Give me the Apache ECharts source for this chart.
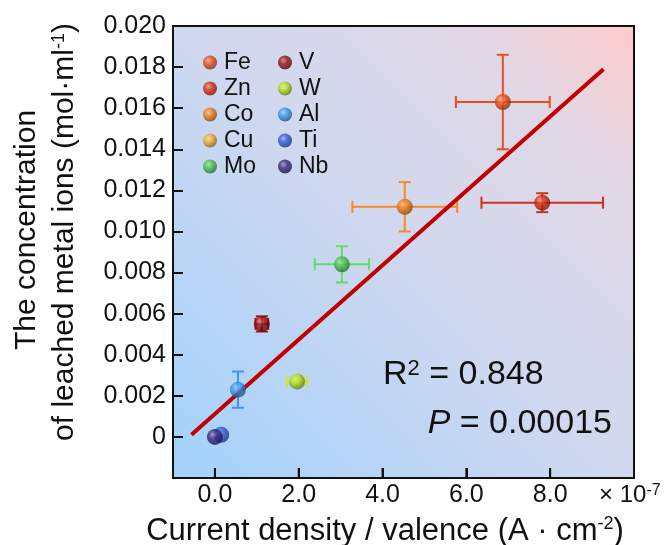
<!DOCTYPE html>
<html>
<head>
<meta charset="utf-8">
<script src="https://cdn.jsdelivr.net/npm/echarts@6.0.0/dist/echarts.min.js"></script>
<style>
  html, body { margin: 0; padding: 0; background: #fff; }
  #chart { width: 669px; height: 545px; }
</style>
</head>
<body>
<div id="chart"></div>
<script>
// metals, x in units of 1e-7 A/cm2 per valence, y in mol/ml
const metals = ["Fe", "Zn", "Co", "Cu", "Mo", "V", "W", "Al", "Ti", "Nb"];
const xVals = [6.87, 7.81, 4.53, null, 3.03, 1.12, 1.96, 0.55, 0.15, 0.0];
const yVals = [0.0163, 0.0114, 0.0112, null, 0.0084, 0.0055, 0.0027, 0.0023, 0.0001, 0.0];
const xErr = [1.12, 1.45, 1.25, null, 0.65, 0.15, 0.24, 0, 0, 0];
const yErr = [0.0023, 0.00046, 0.0012, null, 0.00088, 0.00037, 0, 0.00088, 0, 0];
const colors = ["#ec4e14", "#d8280c", "#f47c14", "#f2b02a", "#48c448", "#9a0c0c", "#b4e014", "#3698ec", "#3458dc", "#36267e"];
const barColors = ["#e8501a", "#d0301e", "#f58a22", "#f0b232", "#62dc62", "#a01818", "#c8ec20", "#3a96ee", "#3a5ad8", "#382a7e"];

// fitted line end points
const fitX = [-0.56, 9.27];
const fitY = [0.0001, 0.0179];

const xTicks = [0, 2, 4, 6, 8];
const yMin = -0.002;

const FONT = "Liberation Sans, Arial, sans-serif";

function shade(hex, amt) {
  let r = parseInt(hex.slice(1, 3), 16), g = parseInt(hex.slice(3, 5), 16), b = parseInt(hex.slice(5, 7), 16);
  const t = amt < 0 ? 0 : 255, p = Math.abs(amt);
  r = Math.round((t - r) * p + r); g = Math.round((t - g) * p + g); b = Math.round((t - b) * p + b);
  return "rgb(" + r + "," + g + "," + b + ")";
}

function sphere(c) {
  return new echarts.graphic.RadialGradient(0.38, 0.35, 0.7, [
    { offset: 0, color: shade(c, 0.5) },
    { offset: 0.4, color: c },
    { offset: 1, color: shade(c, -0.5) }
  ]);
}

const chart = echarts.init(document.getElementById("chart"));

const errData = [];
metals.forEach(function (m, i) {
  if (xVals[i] === null) return;
  if (xErr[i] > 0 || yErr[i] > 0) errData.push([xVals[i], yVals[i], xErr[i], yErr[i], i]);
});

const series = [];
series.push({
  name: "err",
  type: "custom",
  z: 2,
  silent: true,
  data: errData,
  renderItem: function (params, api) {
    const x = api.value(0), y = api.value(1), dx = api.value(2), dy = api.value(3);
    const col = barColors[api.value(4)];
    const c = api.coord([x, y]);
    const kids = [];
    const st = { stroke: col, lineWidth: 2 };
    const cap = 6;
    if (dx > 0) {
      const l = api.coord([x - dx, y]), r = api.coord([x + dx, y]);
      kids.push({ type: "line", shape: { x1: l[0], y1: c[1], x2: r[0], y2: c[1] }, style: st });
      kids.push({ type: "line", shape: { x1: l[0], y1: c[1] - cap, x2: l[0], y2: c[1] + cap }, style: st });
      kids.push({ type: "line", shape: { x1: r[0], y1: c[1] - cap, x2: r[0], y2: c[1] + cap }, style: st });
    }
    if (dy > 0) {
      const t = api.coord([x, y + dy]), b = api.coord([x, y - dy]);
      kids.push({ type: "line", shape: { x1: c[0], y1: t[1], x2: c[0], y2: b[1] }, style: st });
      kids.push({ type: "line", shape: { x1: c[0] - cap, y1: t[1], x2: c[0] + cap, y2: t[1] }, style: st });
      kids.push({ type: "line", shape: { x1: c[0] - cap, y1: b[1], x2: c[0] + cap, y2: b[1] }, style: st });
    }
    return { type: "group", children: kids };
  }
});

// x tick marks at the bottom frame (inside)
series.push({
  name: "xticks",
  type: "custom",
  z: 6,
  silent: true,
  data: xTicks.map(function (v) { return [v, yMin]; }),
  renderItem: function (params, api) {
    const p = api.coord([api.value(0), api.value(1)]);
    return { type: "line", shape: { x1: p[0], y1: p[1], x2: p[0], y2: p[1] - 10 }, style: { stroke: "#111", lineWidth: 2 } };
  }
});

series.push({
  name: "fit",
  type: "line",
  z: 3,
  silent: true,
  symbol: "none",
  data: [[fitX[0], fitY[0]], [fitX[1], fitY[1]]],
  lineStyle: { color: "#c00000", width: 4 }
});

metals.forEach(function (m, i) {
  series.push({
    name: m,
    type: "scatter",
    z: 4,
    symbolSize: 16,
    itemStyle: { color: sphere(colors[i]) },
    data: xVals[i] === null ? [] : [[xVals[i], yVals[i]]]
  });
});

const legendBase = {
  orient: "vertical",
  top: 46,
  icon: "circle",
  itemWidth: 18,
  itemHeight: 14,
  itemGap: 3,
  selectedMode: false,
  textStyle: { fontSize: 23, lineHeight: 23, color: "#111", fontFamily: FONT }
};

const option = {
  animation: false,
  backgroundColor: "#fff",
  textStyle: { fontFamily: FONT },
  grid: {
    left: 173, top: 26, right: 35, bottom: 67,
    show: true,
    borderColor: "#111",
    borderWidth: 2,
    backgroundColor: new echarts.graphic.LinearGradient(0, 1, 1, 0, [
      { offset: 0, color: "#a2d2fc" },
      { offset: 0.5, color: "#d0d8ef" },
      { offset: 0.8, color: "#e0d8e6" },
      { offset: 1, color: "#ffcccc" }
    ])
  },
  legend: [
    Object.assign({ left: 198, data: metals.slice(0, 5) }, legendBase),
    Object.assign({ left: 273, data: metals.slice(5) }, legendBase)
  ],
  xAxis: {
    type: "value",
    min: -1,
    max: 10,
    splitLine: { show: false },
    axisLine: { show: false, onZero: false },
    axisTick: { inside: true, length: 10, customValues: xTicks, lineStyle: { color: "#111", width: 2 } },
    axisLabel: {
      customValues: xTicks,
      fontSize: 25, color: "#111", margin: 5, fontFamily: FONT,
      formatter: function (v) { return v.toFixed(1); }
    }
  },
  yAxis: {
    type: "value",
    min: yMin,
    max: 0.02,
    interval: 0.002,
    splitLine: { show: false },
    axisLine: { show: false, onZero: false },
    axisTick: { inside: true, length: 10, lineStyle: { color: "#111", width: 2 } },
    axisLabel: {
      fontSize: 25, color: "#111", margin: 7, fontFamily: FONT,
      formatter: function (v) {
        if (v < -0.0001) return "";
        if (Math.abs(v) < 1e-9) return "0";
        return v.toFixed(3);
      }
    }
  },
  graphic: [
    {
      type: "text", x: 385, y: 531,
      style: {
        text: "Current density / valence (A · cm{s|-2})",
        rich: { s: { fontSize: 18, verticalAlign: "top", fontFamily: FONT, fill: "#111" } },
        font: "31px " + FONT, fill: "#111", align: "center", verticalAlign: "middle"
      }
    },
    {
      type: "text", x: 27, y: 230, rotation: Math.PI / 2,
      style: { text: "The concentration", font: "30px " + FONT, fill: "#111", align: "center", verticalAlign: "middle" }
    },
    {
      type: "text", x: 65, y: 232, rotation: Math.PI / 2,
      style: {
        text: "of leached metal ions (mol·ml{s|-1})",
        rich: { s: { fontSize: 18, verticalAlign: "top", fontFamily: FONT, fill: "#111" } },
        font: "30px " + FONT, fill: "#111", align: "center", verticalAlign: "middle"
      }
    },
    {
      type: "text", x: 599, y: 495,
      style: {
        text: "× 10{s|-7}",
        rich: { s: { fontSize: 16, verticalAlign: "top", fontFamily: FONT, fill: "#111" } },
        font: "24px " + FONT, fill: "#111", align: "left", verticalAlign: "middle"
      }
    },
    {
      type: "text", x: 383, y: 375,
      style: {
        text: "R{s|2} = 0.848",
        rich: { s: { fontSize: 22, verticalAlign: "top", fontFamily: FONT, fill: "#111" } },
        font: "34px " + FONT, fill: "#111", align: "left", verticalAlign: "middle"
      }
    },
    {
      type: "text", x: 612, y: 424,
      style: {
        text: "{i|P} = 0.00015",
        rich: { i: { fontSize: 34, fontStyle: "italic", fontFamily: FONT, fill: "#111" } },
        font: "34px " + FONT, fill: "#111", align: "right", verticalAlign: "middle"
      }
    }
  ],
  series: series
};

chart.setOption(option);
</script>
</body>
</html>
